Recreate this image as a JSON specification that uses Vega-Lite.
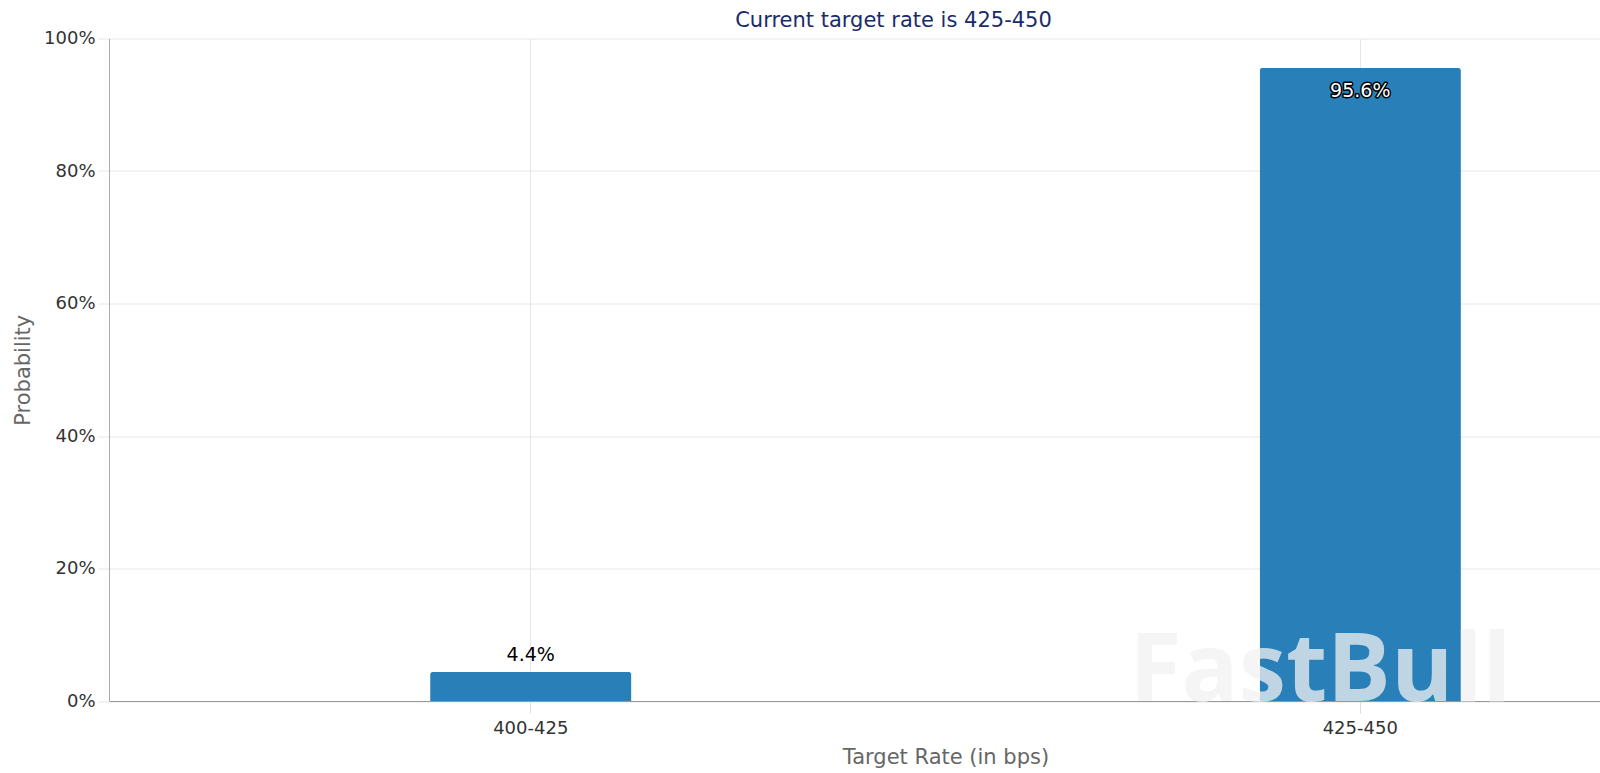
{
  "$schema": "https://vega.github.io/schema/vega-lite/v6.json",
  "autosize": {"type": "none"},
  "padding": {"left": 109, "top": 38.5, "right": 0, "bottom": 72},
  "width": 1491,
  "height": 662.5,
  "background": "#ffffff",
  "config": {
    "view": {"stroke": null},
    "font": "DejaVu Sans"
  },
  "title": {
    "text": "Current target rate is 425-450",
    "fontSize": 21,
    "fontWeight": "normal",
    "color": "#1a2b6b",
    "anchor": "middle",
    "baseline": "alphabetic",
    "offset": 10,
    "dx": 39,
    "dy": 28
  },
  "data": {
    "values": [
      {"rate": "400-425", "prob": 0.044},
      {"rate": "425-450", "prob": 0.956}
    ]
  },
  "encoding": {
    "x": {
      "field": "rate",
      "type": "nominal",
      "sort": null,
      "scale": {"range": [0, 1673], "paddingInner": 0.7573, "paddingOuter": 0.3871},
      "axis": {
        "title": "Target Rate (in bps)",
        "titleFontSize": 21,
        "titleFontWeight": "normal",
        "titleColor": "#666666",
        "titlePadding": 9,
        "labelAngle": 0,
        "labelFontSize": 18,
        "labelColor": "#333333",
        "labelPadding": 6,
        "domainColor": "#999999",
        "tickColor": "#dddddd",
        "tickSize": 12,
        "grid": true,
        "gridColor": "#e6e6e6",
        "bandPosition": 0.5
      }
    },
    "y": {
      "field": "prob",
      "type": "quantitative",
      "scale": {"domain": [0, 1], "nice": false},
      "axis": {
        "title": "Probability",
        "titleFontSize": 21,
        "titleFontWeight": "normal",
        "titleColor": "#666666",
        "titlePadding": 10,
        "format": ".0%",
        "values": [0, 0.2, 0.4, 0.6, 0.8, 1],
        "labelFontSize": 18,
        "labelColor": "#333333",
        "labelPadding": 3,
        "domainColor": "#aaaaaa",
        "tickColor": "#e6e6e6",
        "tickSize": 11,
        "grid": true,
        "gridColor": "#e6e6e6"
      }
    }
  },
  "layer": [
    {
      "mark": {"type": "bar", "color": "#2980b9", "cornerRadiusTopLeft": 3, "cornerRadiusTopRight": 3}
    },
    {
      "transform": [{"filter": "datum.prob < 0.5"}],
      "mark": {"type": "text", "dy": -11, "baseline": "alphabetic", "fontSize": 19, "color": "#000000"},
      "encoding": {"text": {"field": "prob", "type": "quantitative", "format": ".1%"}}
    },
    {
      "transform": [{"filter": "datum.prob >= 0.5"}],
      "mark": {"type": "text", "dy": 29, "baseline": "alphabetic", "fontSize": 19, "fill": "#000000", "stroke": "#000000", "strokeWidth": 3, "strokeJoin": "round"},
      "encoding": {"text": {"field": "prob", "type": "quantitative", "format": ".1%"}}
    },
    {
      "transform": [{"filter": "datum.prob >= 0.5"}],
      "mark": {"type": "text", "dy": 29, "baseline": "alphabetic", "fontSize": 19, "fill": "#ffffff"},
      "encoding": {"text": {"field": "prob", "type": "quantitative", "format": ".1%"}}
    },
    {
      "data": {"values": [{"mark": "FastBull", "rate": "425-450", "prob": 0}]},
      "mark": {"type": "text", "dx": -40, "baseline": "alphabetic", "font": "Open Sans", "fontWeight": "bold", "fontSize": 95, "fill": "#f2f2f2", "opacity": 0.75},
      "encoding": {"text": {"field": "mark", "type": "nominal"}}
    }
  ]
}
